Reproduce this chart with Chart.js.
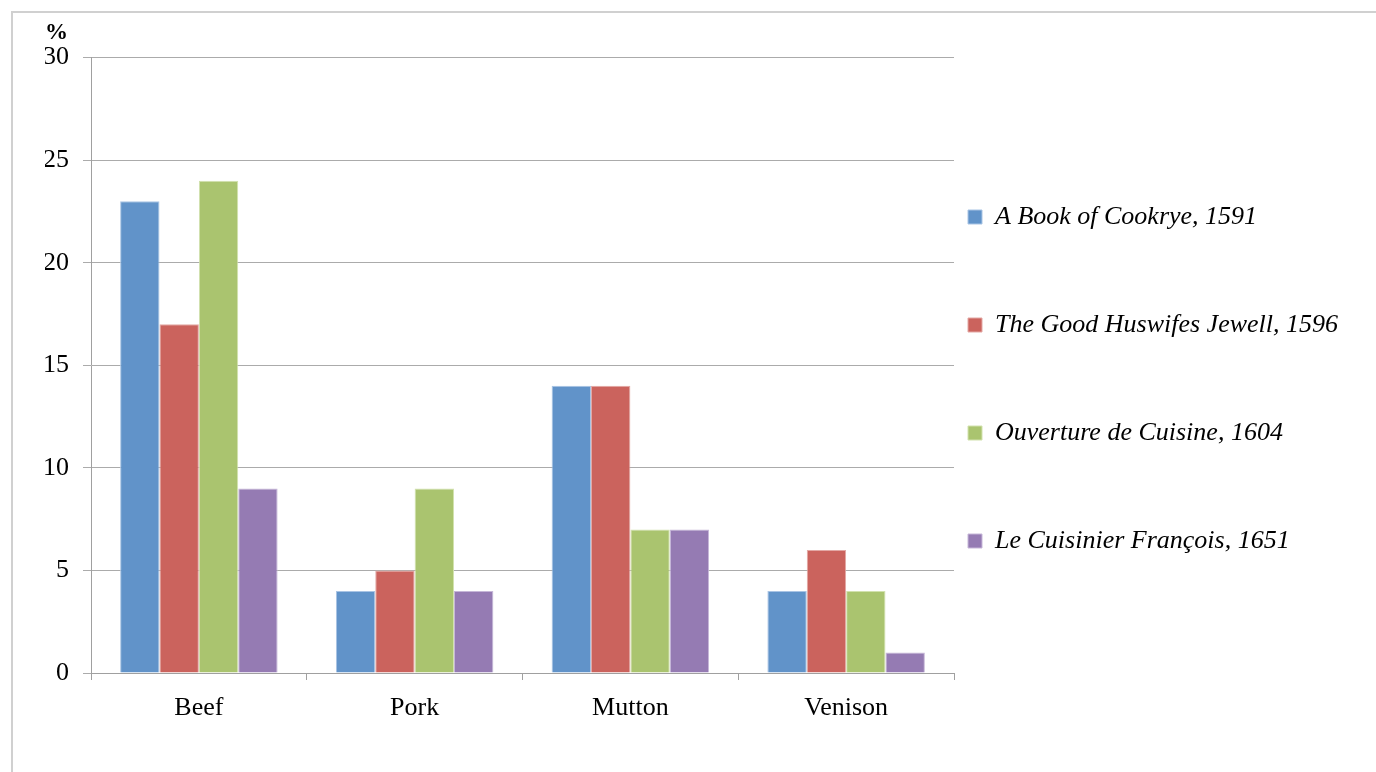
<!DOCTYPE html>
<html>
<head>
<meta charset="utf-8">
<title>Meat in early cookbooks</title>
<script src="https://cdn.jsdelivr.net/npm/chart.js@4.4.1/dist/chart.umd.min.js"></script>
<style>
    html, body { margin: 0; padding: 0; background: #fff; }
    #frame {
        position: absolute; left: 11px; top: 11px;
        width: 1400px; height: 800px;
        border-left: 2px solid #d0d0d0;
        border-top: 2px solid #d0d0d0;
    }
    #wrap { position: absolute; left: 0; top: 0; width: 1376px; height: 772px; }
</style>
</head>
<body>
<div id="frame"></div>
<div id="wrap"><canvas id="meatChart"></canvas></div>
<script>
const meats = ['Beef', 'Pork', 'Mutton', 'Venison'];

const books = [
    'A Book of Cookrye, 1591',
    'The Good Huswifes Jewell, 1596',
    'Ouverture de Cuisine, 1604',
    'Le Cuisinier François, 1651'
];

// share of recipes (%) per meat, one list per book
const cookrye1591 = [23, 4, 14, 4];
const huswife1596 = [17, 5, 14, 6];
const ouverture1604 = [24, 9, 7, 4];
const cuisinier1651 = [9, 4, 7, 1];

const yTicks = [0, 5, 10, 15, 20, 25, 30];

const fills = ['#6193c9', '#cb635d', '#aac46f', '#957bb3'];
const edges = ['#a9c4e4', '#e3a8a4', '#d2e2ae', '#c6b7d8'];

const serif = '"Liberation Serif", "Times New Roman", serif';
const legendGap = 82;

// the legend spaces its rows with the label padding, so pull its left
// edge back next to the plot area once the layout is done
const legendNudge = {
    id: 'legendNudge',
    afterLayout(chart) {
        const lg = chart.legend;
        lg.left += chart.chartArea.right + 14 - (lg.left + legendGap);
    }
};

const series = [cookrye1591, huswife1596, ouverture1604, cuisinier1651];

new Chart(document.getElementById('meatChart'), {
    type: 'bar',
    data: {
        labels: meats,
        datasets: series.map((values, i) => ({
            label: books[i],
            data: values,
            backgroundColor: fills[i],
            borderColor: edges[i],
            borderWidth: 1,
            categoryPercentage: 0.73,
            barPercentage: 1.0
        }))
    },
    options: {
        responsive: true,
        maintainAspectRatio: false,
        animation: false,
        layout: { padding: { left: 45, top: 0, right: 0, bottom: 14 } },
        scales: {
            x: {
                grid: {
                    offset: true,
                    drawOnChartArea: false,
                    drawTicks: true,
                    tickLength: 7,
                    color: '#a0a0a0'
                },
                border: { color: '#a0a0a0' },
                ticks: {
                    color: '#000',
                    padding: 13,
                    font: { family: serif, size: 26 }
                },
                afterFit(scale) { scale.height = 85; }
            },
            y: {
                min: 0,
                max: 30,
                grid: { color: '#ababab', tickLength: 8 },
                border: { color: '#a0a0a0' },
                afterBuildTicks(scale) {
                    scale.ticks = yTicks.map(v => ({ value: v }));
                },
                ticks: {
                    color: '#000',
                    padding: 14,
                    font: { family: serif, size: 26 }
                },
                afterFit(scale) { scale.width = 46; }
            }
        },
        plugins: {
            title: {
                display: true,
                text: '%',
                align: 'start',
                color: '#000',
                padding: { top: 19, bottom: 11 },
                font: { family: serif, size: 23, weight: 'bold' }
            },
            legend: {
                position: 'right',
                align: 'center',
                maxWidth: 422,
                labels: {
                    color: '#000',
                    boxWidth: 14,
                    boxHeight: 14,
                    padding: legendGap,
                    font: { family: serif, size: 26, style: 'italic' }
                }
            },
            tooltip: { enabled: false }
        }
    },
    plugins: [legendNudge]
});
</script>
</body>
</html>
